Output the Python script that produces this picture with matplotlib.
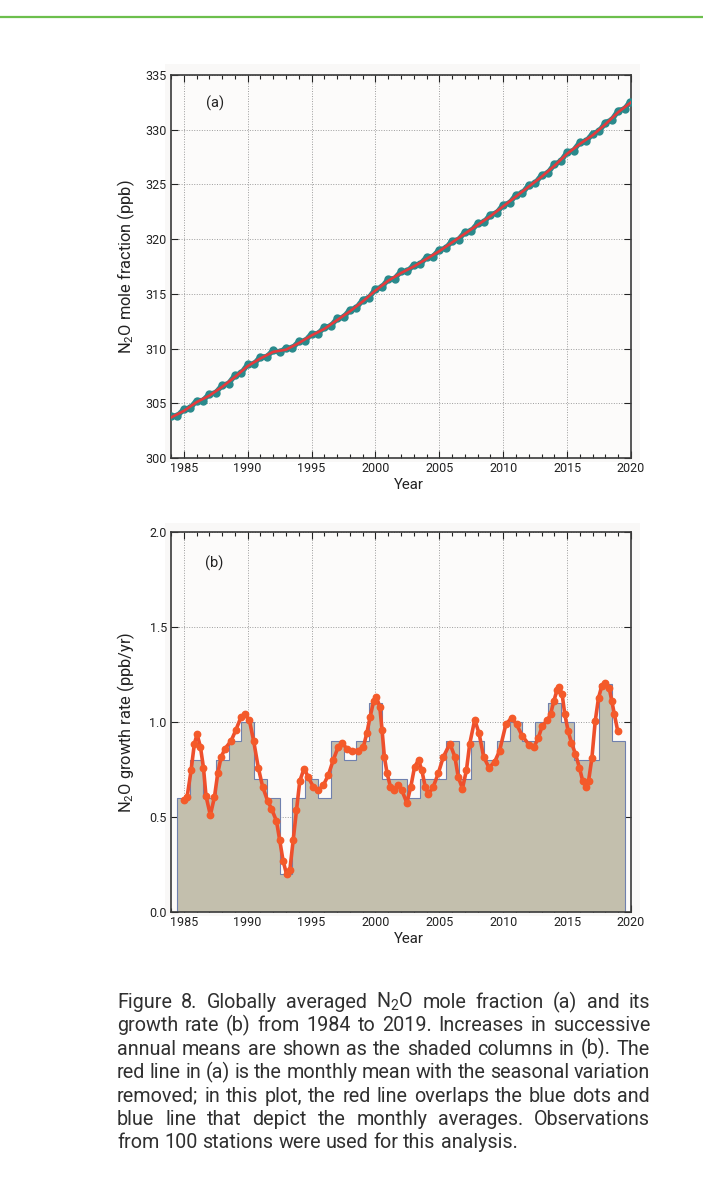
import matplotlib
matplotlib.use('Agg')
import matplotlib.pyplot as plt
from matplotlib import font_manager
from matplotlib.ticker import MultipleLocator
from matplotlib.lines import Line2D
from matplotlib.patches import Rectangle

# ---------------- data ----------------
# (a) deseasonalised trend (red), Jan 1 of each year
a_years = list(range(1984, 2021))
a_trend = [303.7, 304.3, 305.1, 305.7, 306.5, 307.4, 308.4, 309.1, 309.7, 309.9,
           310.5, 311.2, 311.8, 312.6, 313.4, 314.3, 315.3, 316.2, 316.9, 317.5,
           318.2, 318.9, 319.7, 320.5, 321.3, 322.1, 323.0, 323.9, 324.8, 325.7,
           326.7, 327.8, 328.7, 329.5, 330.5, 331.6, 332.5]

# (a) monthly averages (blue dots), read at half-year steps
blue_t = [1984.0, 1984.5, 1985.0, 1985.5, 1986.0, 1986.5, 1987.0, 1987.5, 1988.0, 1988.5,
          1989.0, 1989.5, 1990.0, 1990.5, 1991.0, 1991.5, 1992.0, 1992.5, 1993.0, 1993.5,
          1994.0, 1994.5, 1995.0, 1995.5, 1996.0, 1996.5, 1997.0, 1997.5, 1998.0, 1998.5,
          1999.0, 1999.5, 2000.0, 2000.5, 2001.0, 2001.5, 2002.0, 2002.5, 2003.0, 2003.5,
          2004.0, 2004.5, 2005.0, 2005.5, 2006.0, 2006.5, 2007.0, 2007.5, 2008.0, 2008.5,
          2009.0, 2009.5, 2010.0, 2010.5, 2011.0, 2011.5, 2012.0, 2012.5, 2013.0, 2013.5,
          2014.0, 2014.5, 2015.0, 2015.5, 2016.0, 2016.5, 2017.0, 2017.5, 2018.0, 2018.5,
          2019.0, 2019.5, 2019.92]
blue_v = [303.85, 303.85, 304.45, 304.55, 305.25, 305.25, 305.85, 305.95, 306.65, 306.8,
          307.55, 307.75, 308.55, 308.6, 309.25, 309.25, 309.85, 309.65, 310.05, 310.05,
          310.65, 310.7, 311.35, 311.35, 311.95, 312.05, 312.75, 312.85, 313.55, 313.7,
          314.45, 314.65, 315.45, 315.6, 316.35, 316.4, 317.05, 317.05, 317.65, 317.7,
          318.35, 318.4, 319.05, 319.15, 319.85, 319.95, 320.65, 320.75, 321.45, 321.55,
          322.25, 322.4, 323.15, 323.3, 324.05, 324.2, 324.95, 325.1, 325.85, 326.05,
          326.85, 327.1, 327.95, 328.1, 328.85, 328.95, 329.65, 329.85, 330.65, 330.9,
          331.75, 331.9, 332.55]

# (b) annual increases (shaded columns)
bar_years = list(range(1985, 2020))
bar_vals = [0.6, 0.8, 0.6, 0.8, 0.9, 1.0, 0.7, 0.6, 0.2, 0.6,
            0.7, 0.6, 0.9, 0.8, 0.9, 1.1, 0.7, 0.7, 0.6, 0.7,
            0.7, 0.9, 0.7, 0.9, 0.8, 0.9, 1.0, 0.9, 1.0, 1.1,
            1.0, 0.8, 0.8, 1.2, 0.9]

# (b) growth rate curve (red dots)
gr_t = [1985.00, 1985.26, 1985.57, 1985.83, 1986.04, 1986.30, 1986.54, 1986.74, 1987.08, 1987.40,
        1987.66, 1987.92, 1988.23, 1988.70, 1989.09, 1989.48, 1989.79, 1990.13, 1990.47, 1990.83,
        1991.17, 1991.56, 1991.86, 1992.25, 1992.51, 1992.77, 1993.04, 1993.30, 1993.56, 1993.82,
        1994.08, 1994.42, 1994.74, 1995.13, 1995.52, 1995.92, 1996.31, 1996.70, 1997.09, 1997.41,
        1997.75, 1998.14, 1998.66, 1999.06, 1999.32, 1999.58, 1999.86, 2000.08, 2000.34, 2000.52,
        2000.70, 2000.91, 2001.17, 2001.42, 2001.74, 2002.07, 2002.46, 2002.77, 2003.06, 2003.37,
        2003.63, 2003.89, 2004.15, 2004.53, 2004.92, 2005.31, 2005.83, 2006.22, 2006.48, 2006.81,
        2007.12, 2007.38, 2007.77, 2008.11, 2008.47, 2008.89, 2009.33, 2009.72, 2010.21, 2010.67,
        2011.04, 2011.50, 2012.02, 2012.41, 2012.75, 2013.06, 2013.45, 2013.70, 2013.96, 2014.22,
        2014.40, 2014.61, 2014.82, 2015.08, 2015.34, 2015.65, 2015.96, 2016.22, 2016.48, 2016.68,
        2016.94, 2017.20, 2017.46, 2017.72, 2017.98, 2018.29, 2018.50, 2018.70, 2018.96]
gr_v = [0.59, 0.605, 0.745, 0.886, 0.935, 0.87, 0.76, 0.61, 0.51, 0.605,
        0.73, 0.815, 0.86, 0.90, 0.96, 1.026, 1.04, 1.01, 0.90, 0.76,
        0.66, 0.585, 0.544, 0.48, 0.377, 0.27, 0.20, 0.22, 0.377, 0.535,
        0.69, 0.755, 0.71, 0.66, 0.64, 0.667, 0.72, 0.80, 0.87, 0.89,
        0.86, 0.85, 0.85, 0.87, 0.94, 1.026, 1.11, 1.13, 1.08, 0.956,
        0.816, 0.73, 0.66, 0.64, 0.67, 0.64, 0.574, 0.66, 0.763, 0.80,
        0.746, 0.66, 0.62, 0.66, 0.73, 0.816, 0.886, 0.816, 0.71, 0.65,
        0.746, 0.886, 1.012, 0.94, 0.816, 0.76, 0.79, 0.85, 0.988, 1.023,
        0.988, 0.926, 0.88, 0.868, 0.918, 0.98, 1.009, 1.04, 1.11, 1.17,
        1.184, 1.146, 1.04, 0.953, 0.89, 0.833, 0.76, 0.69, 0.658, 0.69,
        0.81, 1.005, 1.128, 1.19, 1.205, 1.18, 1.11, 1.04, 0.953]

a_yticks = [300, 305, 310, 315, 320, 325, 330, 335]
b_yticks = [0.0, 0.5, 1.0, 1.5, 2.0]
xticks = [1985, 1990, 1995, 2000, 2005, 2010, 2015, 2020]

caption_lines = [
    "Figure 8. Globally averaged N$_{\\mathregular{2}}$O mole fraction (a) and its",
    "growth rate (b) from 1984 to 2019. Increases in successive",
    "annual means are shown as the shaded columns in (b). The",
    "red line in (a) is the monthly mean with the seasonal variation",
    "removed; in this plot, the red line overlaps the blue dots and",
    "blue line that depict the monthly averages. Observations",
    "from 100 stations were used for this analysis.",
]

# ---------------- fonts ----------------
names = {f.name for f in font_manager.fontManager.ttflist}
def pick(cands):
    for c in cands:
        if c in names:
            return c
    return 'DejaVu Sans'

axis_font = pick(['Liberation Sans Narrow', 'Roboto', 'Liberation Sans'])
cap_font = pick(['Liberation Sans Narrow', 'Roboto', 'Liberation Sans'])
narrow = (axis_font == 'Liberation Sans Narrow')
plt.rcParams['font.family'] = [axis_font, 'DejaVu Sans']
plt.rcParams['mathtext.fontset'] = 'custom'
plt.rcParams['mathtext.rm'] = axis_font
plt.rcParams['mathtext.it'] = axis_font
plt.rcParams['mathtext.bf'] = axis_font

tick_fs = 10.5 if narrow else 9.0
label_fs = 13 if narrow else 11.8
xlabel_fs = 12 if narrow else 10.8
panel_fs = 11.5 if narrow else 10.5

W, H = 703, 1177
fig = plt.figure(figsize=(W / 100, H / 100), dpi=100)
fig.patch.set_facecolor('white')

# top green rule
fig.add_artist(Line2D([0, 1], [1 - 17 / H] * 2, color='#6cbf4c', lw=1.6,
                      transform=fig.transFigure))

# faint panel backgrounds
for (x0, y0, x1, y1) in [(165, 64, 640, 462), (165, 523, 640, 916)]:
    fig.add_artist(Rectangle((x0 / W, 1 - y1 / H), (x1 - x0) / W, (y1 - y0) / H,
                             transform=fig.transFigure, facecolor='#f9f8f7',
                             edgecolor='none', zorder=-5))

left, width = 171 / W, 460 / W
ax1 = fig.add_axes([left, 1 - 458 / H, width, 383 / H])
ax2 = fig.add_axes([left, 1 - 912 / H, width, 380 / H])

for ax in (ax1, ax2):
    ax.set_facecolor('#fcfbfa')
    ax.set_xlim(1984, 2020)
    ax.set_xticks(xticks)
    ax.xaxis.set_minor_locator(MultipleLocator(1))
    ax.tick_params(which='both', direction='in', top=True, right=True,
                   labelsize=tick_fs, colors='#222222', width=0.8)
    ax.tick_params(which='major', length=5, pad=3)
    ax.tick_params(which='minor', length=3)
    ax.tick_params(axis='y', which='minor', left=False, right=False)
    ax.grid(True, which='major', ls=(0, (1, 1.6)), color='#9c9c9c', lw=0.7)
    ax.set_axisbelow(True)
    for s in ax.spines.values():
        s.set_color('#3a3a3a')
        s.set_linewidth(1.2)
    ax.set_xlabel('Year', fontsize=xlabel_fs, color='#222222')
    ax.xaxis.set_label_coords(0.517, -0.052)

# ---- panel (a)
ax1.set_ylim(300, 335)
ax1.set_yticks(a_yticks)
ax1.plot(blue_t, blue_v, color='#2a8a8c', lw=3.8, solid_capstyle='round',
         marker='o', ms=5.0, zorder=3)
ax1.plot(a_years, a_trend, color='#e63a3c', lw=1.9, zorder=4)
ax1.set_ylabel('N$_{\\mathregular{2}}$O mole fraction (ppb)', fontsize=label_fs,
               color='#222222')
ax1.yaxis.set_label_coords(-0.074, 0.5)
ax1.text(0.096, 0.927, '(a)', transform=ax1.transAxes, fontsize=panel_fs,
         ha='center', va='center', color='#222222')

# ---- panel (b)
ax2.set_ylim(0, 2.0)
ax2.set_yticks(b_yticks)
ax2.set_yticklabels([f'{v:.1f}' for v in b_yticks])
edges = [y - 0.5 for y in bar_years] + [bar_years[-1] + 0.5]
ax2.stairs(bar_vals, edges, fill=True, color='#c3bfad', zorder=2)
ax2.stairs(bar_vals, edges, color='#6f80ae', lw=0.8, baseline=0, zorder=2.5)
ax2.plot(gr_t, gr_v, color='#ee4f2c', lw=2.6, marker='o', ms=4.6,
         markerfacecolor='#f45a2a', markeredgecolor='#f45a2a', zorder=4)
ax2.set_ylabel('N$_{\\mathregular{2}}$O growth rate (ppb/yr)', fontsize=label_fs,
               color='#222222')
ax2.yaxis.set_label_coords(-0.074, 0.5)
ax2.text(0.093, 0.918, '(b)', transform=ax2.transAxes, fontsize=panel_fs,
         ha='center', va='center', color='#222222')

# ---------------- justified caption ----------------
r = fig.canvas.get_renderer()
cap_color = '#303030'
x_left, x_right = 117, 650
base0, step = 1008, 23.4

def measure(s, fs):
    t = fig.text(0, 0, s, fontsize=fs, family=[cap_font, 'DejaVu Sans'])
    w = t.get_window_extent(r).width
    t.remove()
    return w

# caption size: the widest justified line just fits with normal word spacing
fs0 = 13.0
w_max = max(measure(l, fs0) for l in caption_lines[:-1])
cap_fs = fs0 * 538.0 / w_max

space_w = measure('a b', cap_fs) - measure('ab', cap_fs)
for i, line in enumerate(caption_lines):
    yb = base0 + i * step
    words = line.split(' ')
    widths = [measure(wd, cap_fs) for wd in words]
    if i < len(caption_lines) - 1:
        gap = (x_right - x_left - sum(widths)) / (len(words) - 1)
    else:
        gap = space_w
    x = x_left
    for wd, w in zip(words, widths):
        fig.text(x / W, 1 - yb / H, wd, fontsize=cap_fs, color=cap_color,
                 family=[cap_font, 'DejaVu Sans'], ha='left', va='baseline')
        x += w + gap

fig.savefig('out.png', dpi=100, facecolor='white')
